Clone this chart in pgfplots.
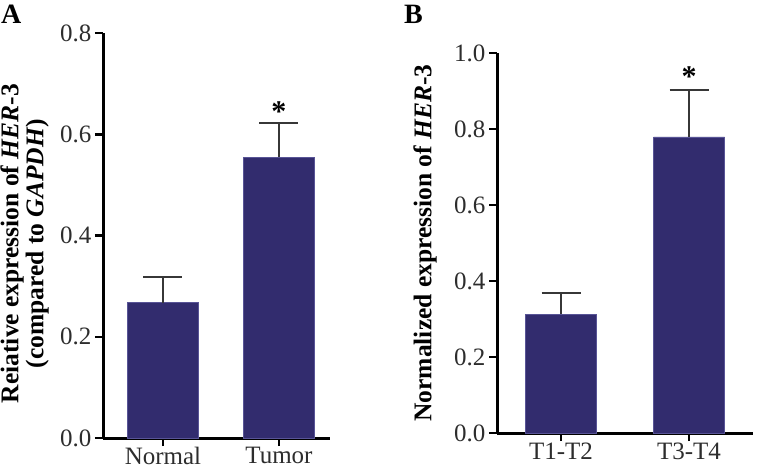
\documentclass[border=0pt]{standalone}
\usepackage{fontspec}
\setmainfont{Liberation Serif}
\usepackage{pgfplots}
\pgfplotsset{compat=1.18}

\definecolor{barblue}{RGB}{50,44,110}
\definecolor{baredge}{RGB}{88,84,150}
\definecolor{errgray}{RGB}{55,55,55}
\definecolor{ticktext}{RGB}{45,45,45}

\pgfplotsset{
  panel/.style={
    scale only axis,
    anchor=south west,
    axis lines*=left,
    axis line style={line width=3pt, black},
    tick align=outside,
    major tick length=8pt,
    major tick style={line width=2.5pt, black},
    xtick=data,
    ymin=0,
    ytick distance=0.2,
    /pgf/number format/assume math mode=true,
    /pgf/number format/fixed,
    /pgf/number format/fixed zerofill,
    /pgf/number format/precision=1,
    tick label style={font=\fontsize{25}{27}\selectfont, text=ticktext},
    xticklabel style={yshift=2pt},
    ylabel style={font=\fontsize{25.5}{25}\selectfont\bfseries, align=center, rotate=0, anchor=center, inner sep=0pt},
    clip=false,
  },
  hbar/.style={
    ybar, bar width=71pt, fill=barblue, draw=baredge, line width=0.8pt, bar shift=0pt,
    error bars/.cd, y dir=plus, y explicit,
    error bar style={line width=2pt, errgray},
    error mark options={line width=2pt, errgray, mark size=19.5pt, rotate=90},
  },
  star/.style={
    draw=none, mark=none,
    nodes near coords={\textbf{*}},
    nodes near coords style={font=\fontsize{30}{30}\selectfont\bfseries, anchor=center},
  },
}

\begin{document}
\begin{tikzpicture}
\useasboundingbox (0pt,0pt) rectangle (762pt,469pt);

% panel letters
\node[anchor=north west, inner sep=0pt, font=\fontsize{28}{28}\selectfont\bfseries] at (1pt,464pt) {A};
\node[anchor=north west, inner sep=0pt, font=\fontsize{28}{28}\selectfont\bfseries] at (404pt,464pt) {B};

% panel A
\begin{axis}[panel,
  at={(103pt,31pt)}, width=227pt, height=405pt,
  xmin=0.483, xmax=2.44, ymax=0.8,
  xticklabels={Normal,Tumor},
  ylabel={Reiative expression of \textit{HER}-3\\(compared to \textit{GAPDH})},
  ylabel style={at={(axis description cs:-0.345,0.48)}},
]
\addplot[hbar] coordinates {(1,0.267) +- (0,0.051) (2,0.555) +- (0,0.067)};
\addplot[star] coordinates {(2,0.644)};
\end{axis}

% panel B
\begin{axis}[panel,
  at={(497pt,36pt)}, width=256pt, height=380pt,
  xmin=0.5, xmax=2.5, ymax=1.0,
  xticklabels={T1-T2,T3-T4},
  ylabel={Normalized expression of \textit{HER}-3},
  ylabel style={at={(axis description cs:-0.281,0.5)}},
]
\addplot[hbar] coordinates {(1,0.313) +- (0,0.055) (2,0.779) +- (0,0.124)};
\addplot[star] coordinates {(2,0.937)};
\end{axis}
\end{tikzpicture}
\end{document}
